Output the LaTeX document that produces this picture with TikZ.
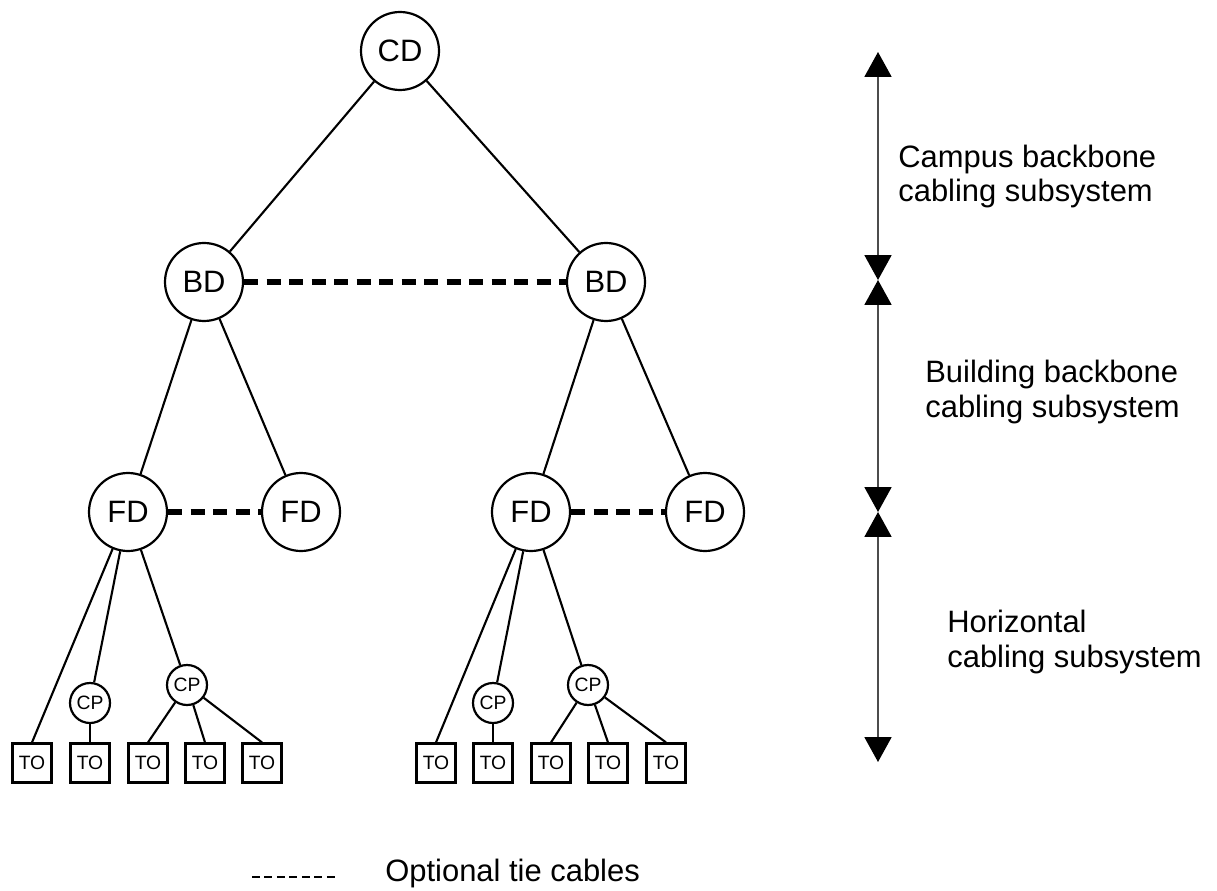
\documentclass[tikz,border=0pt]{standalone}
\usepackage{fontspec}
\setmainfont{Liberation Sans}
\usepackage{tikz}
\usetikzlibrary{arrows.meta}

\begin{document}
\begin{tikzpicture}[
		big/.style={circle,draw,line width=1.25pt,minimum size=1.56cm,inner sep=0pt,font=\fontsize{17.6}{19.4}\selectfont},
		cpnode/.style={circle,draw,line width=1.25pt,minimum size=0.8cm,inner sep=0pt,font=\fontsize{11}{12}\selectfont},
		tobox/.style={rectangle,draw,line width=1.25pt,minimum size=0.78cm,inner sep=0pt,font=\fontsize{11}{12}\selectfont},
		cable/.style={line width=1.2pt},
		tie/.style={line width=3.2pt,dash pattern=on 8pt off 4.8pt},
		span/.style={line width=0.9pt,black!70,{Triangle[length=14.2pt,width=15.4pt,color=black]}-{Triangle[length=14.2pt,width=15.4pt,color=black]}},
		side/.style={anchor=base west,inner sep=0pt,align=left,font=\fontsize{17.6}{19.4}\selectfont}
	]
		\useasboundingbox (0,0) rectangle (24.34,17.8);
%		\draw[help lines] (0,0) grid (24,17);
		\path (8.0,16.78) coordinate (cd_c);
		\path (4.08,12.16) coordinate (bd_l);
		\path (12.12,12.16) coordinate (bd_r);

		\path (2.56,7.56) coordinate (fd_ll);
		\path (6.02,7.56) coordinate (fd_lr);
		\path (10.62,7.56) coordinate (fd_rl);
		\path (14.1,7.56) coordinate (fd_rr);

		\path (1.8,3.74) coordinate (cp_la);
		\path (3.74,4.1) coordinate (cp_lb);
		\path (9.86,3.74) coordinate (cp_ra);
		\path (11.76,4.1) coordinate (cp_rb);

		\path (17.56,16.76) coordinate (span_top);
		\path (17.56,12.2) coordinate (span_bd);
		\path (17.56,7.56) coordinate (span_fd);
		\path (17.56,2.56) coordinate (span_bot);

		\path (5.04,0.26) coordinate (key_l);
		\path (6.7,0.26) coordinate (key_r);

		% distributors
		\node[big] (cd) at (cd_c) {CD};
		\node[big] (bdl) at (bd_l) {BD};
		\node[big] (bdr) at (bd_r) {BD};
		\node[big] (fdll) at (fd_ll) {FD};
		\node[big] (fdlr) at (fd_lr) {FD};
		\node[big] (fdrl) at (fd_rl) {FD};
		\node[big] (fdrr) at (fd_rr) {FD};
		\node[cpnode] (cpla) at (cp_la) {CP};
		\node[cpnode] (cplb) at (cp_lb) {CP};
		\node[cpnode] (cpra) at (cp_ra) {CP};
		\node[cpnode] (cprb) at (cp_rb) {CP};

		% telecom outlets
		\foreach \x [count=\i] in {0.64,1.8,2.96,4.1,5.24}
			\node[tobox] (tol\i) at (\x,2.54) {TO};
		\foreach \x [count=\i] in {8.72,9.86,11.02,12.16,13.32}
			\node[tobox] (tor\i) at (\x,2.54) {TO};

		\draw[cable] (cd) -- (bdl);
		\draw[cable] (cd) -- (bdr);
		\draw[cable] (bdl) -- (fdll);
		\draw[cable] (bdl) -- (fdlr);
		\draw[cable] (bdr) -- (fdrl);
		\draw[cable] (bdr) -- (fdrr);

		\draw[cable] (fdll) -- (tol1.north);
		\draw[cable] (fdll) -- (cpla);
		\draw[cable] (fdll) -- (cplb);
		\draw[cable] (cpla) -- (tol2.north);
		\foreach \i in {3,4,5}
			\draw[cable] (cplb) -- (tol\i.north);

		\draw[cable] (fdrl) -- (tor1.north);
		\draw[cable] (fdrl) -- (cpra);
		\draw[cable] (fdrl) -- (cprb);
		\draw[cable] (cpra) -- (tor2.north);
		\foreach \i in {3,4,5}
			\draw[cable] (cprb) -- (tor\i.north);

		% optional ties
		\draw[tie] (bdl) -- (bdr);
		\draw[tie] (fdll) -- (fdlr);
		\draw[tie] (fdrl) -- (fdrr);

		% subsystem spans
		\draw[span] (span_top) -- (span_bd);
		\draw[span] (span_bd) -- (span_fd);
		\draw[span] (span_fd) -- (span_bot);
		\node[side] (campus) at (17.96,13.76) {Campus backbone\\cabling subsystem};
		\node[side] (building) at (18.5,9.46) {Building backbone\\cabling subsystem};
		\node[side] (horiz) at (18.94,4.46) {Horizontal\\cabling subsystem};

		% key
		\draw[line width=1.1pt,dash pattern=on 4.5pt off 2.6pt] (key_l) -- (key_r);
		\node[side] (keytext) at (7.7,0.18) {Optional tie cables};
	\end{tikzpicture}
\end{document}
